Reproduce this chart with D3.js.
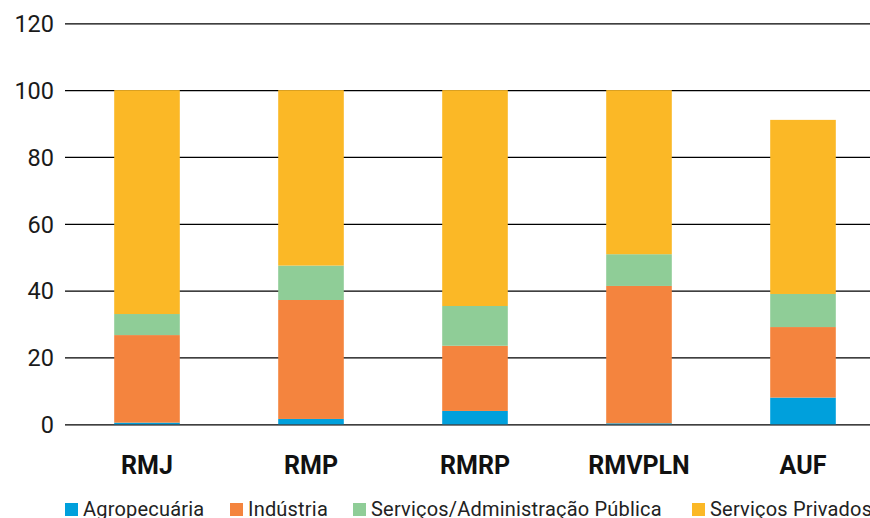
<!DOCTYPE html>
<html>
<head>
<meta charset="utf-8">
<script src="https://cdn.jsdelivr.net/npm/d3@7"></script>
<style>
  body { margin: 0; background: #fff; }
  svg { display: block; }
  .tick-label { font-family: Roboto, sans-serif; font-weight: 400; font-size: 23.5px; fill: #1a1a1a; }
  .cat-label { font-family: Roboto, sans-serif; font-weight: 700; font-size: 25px; fill: #111; }
  .legend-text { font-family: Roboto, sans-serif; font-size: 20px; fill: #222; letter-spacing: 0.2px; }
</style>
</head>
<body>
<div id="chart"></div>
<script>
'use strict';

var categories = ['RMJ', 'RMP', 'RMRP', 'RMVPLN', 'AUF'];
var seriesNames = ['Agropecuária', 'Indústria', 'Serviços/Administração Pública', 'Serviços Privados'];
var agropecuaria = [0.5, 1.6, 4.0, 0.3, 8.0];
var industria = [26.2, 35.6, 19.5, 41.1, 21.1];
var servicosPublicos = [6.3, 10.3, 11.9, 9.5, 9.9];
var servicosPrivados = [67.0, 52.5, 64.6, 49.1, 52.1];
var yTicks = [0, 20, 40, 60, 80, 100, 120];
var colors = ['#00a0dc', '#f4843e', '#8fcd97', '#fbb826'];

var width = 870, height = 518;

var table = categories.map(function (c, i) {
  return {
    cat: c,
    s0: agropecuaria[i],
    s1: industria[i],
    s2: servicosPublicos[i],
    s3: servicosPrivados[i]
  };
});

var stack = d3.stack().keys(['s0', 's1', 's2', 's3']);
var layers = stack(table);

var x = d3.scaleBand()
  .domain(categories)
  .range([65, 885])
  .paddingInner(0.6)
  .paddingOuter(0.3);

var y = d3.scaleLinear()
  .domain([0, 120])
  .range([424.3, 23.3]);

var svg = d3.select('#chart').append('svg')
  .attr('width', width)
  .attr('height', height);

// gridlines + y labels
var yAxis = d3.axisLeft(y)
  .tickValues(yTicks)
  .tickSize(-(width - 65))
  .tickPadding(12);

var gy = svg.append('g')
  .attr('transform', 'translate(65,0)')
  .call(yAxis);

gy.attr('font-size', null).attr('font-family', null);
gy.select('.domain').remove();
gy.selectAll('.tick line')
  .attr('stroke', '#000')
  .attr('stroke-width', 1.3);
gy.selectAll('.tick text')
  .attr('class', 'tick-label')
  .attr('x', -11)
  .attr('dy', '0.35em');

// bars
svg.append('g').selectAll('g.layer')
  .data(layers)
  .enter().append('g')
  .attr('class', 'layer')
  .attr('fill', function (d, i) { return colors[i]; })
  .selectAll('rect')
  .data(function (d) { return d; })
  .enter().append('rect')
  .attr('x', function (d) { return x(d.data.cat); })
  .attr('width', x.bandwidth())
  .attr('y', function (d) { return y(d[1]); })
  .attr('height', function (d) { return y(d[0]) - y(d[1]); });

// category labels
var xAxis = d3.axisBottom(x).tickSize(0).tickPadding(0);
var gx = svg.append('g')
  .attr('transform', 'translate(0,474)')
  .call(xAxis);
gx.select('.domain').remove();
gx.attr('font-size', null).attr('font-family', null);
gx.selectAll('.tick text')
  .attr('class', 'cat-label')
  .attr('y', 0)
  .attr('dy', 0);

// legend
var legendX = [65, 230, 353, 692];
var legend = svg.append('g').selectAll('g.leg')
  .data(seriesNames)
  .enter().append('g')
  .attr('class', 'leg')
  .attr('transform', function (d, i) { return 'translate(' + legendX[i] + ',503)'; });

legend.append('rect')
  .attr('width', 13)
  .attr('height', 13)
  .attr('fill', function (d, i) { return colors[i]; });

legend.append('text')
  .attr('class', 'legend-text')
  .attr('x', 18)
  .attr('y', 12.5)
  .text(function (d) { return d; });
</script>
</body>
</html>
